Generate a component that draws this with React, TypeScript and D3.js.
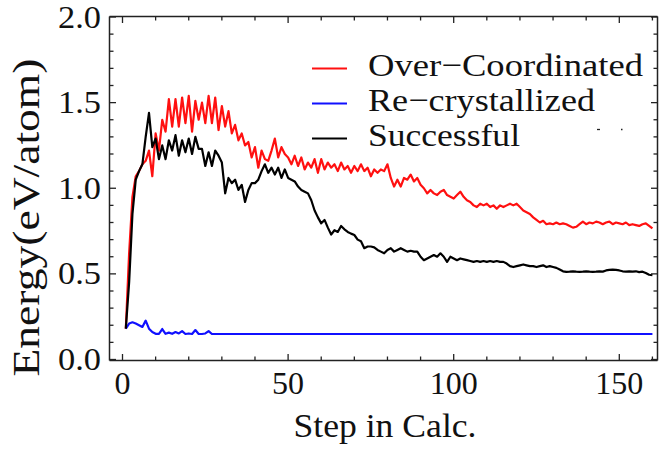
import React from 'react';
import * as d3 from 'd3';

const seriesNames = ['Over\u2212Coordinated', 'Re\u2212crystallized', 'Successful'];
const seriesColors = ['#ff1010', '#1010ff', '#000000'];
const legendTextWidths = [275, 227, 152];

// values per calculation step (step 1 .. 160)
const overCoordinated = [
  0.18, 0.62, 0.95, 1.07, 1.10, 1.14, 1.16, 1.22, 1.07, 1.32,
  1.22, 1.40, 1.33, 1.52, 1.36, 1.52, 1.36, 1.53, 1.38, 1.54,
  1.33, 1.51, 1.40, 1.50, 1.38, 1.54, 1.38, 1.53, 1.34, 1.48,
  1.36, 1.45, 1.32, 1.37, 1.28, 1.32, 1.25, 1.27, 1.18, 1.24,
  1.12, 1.22, 1.17, 1.16, 1.22, 1.29, 1.18, 1.24, 1.20, 1.18,
  1.14, 1.19, 1.13, 1.18, 1.11, 1.15, 1.12, 1.17, 1.09, 1.17,
  1.11, 1.15, 1.12, 1.14, 1.10, 1.15, 1.11, 1.13, 1.09, 1.13,
  1.10, 1.14, 1.10, 1.12, 1.07, 1.11, 1.09, 1.11, 1.10, 1.14,
  1.06, 1.01, 1.05, 1.01, 1.06, 1.05, 1.08, 1.04, 1.06, 1.02,
  1.00, 0.97, 0.99, 0.97, 0.96, 0.98, 0.99, 0.96, 0.95, 0.94,
  0.96, 0.98, 0.95, 0.93, 0.92, 0.90, 0.89, 0.91, 0.90, 0.91,
  0.89, 0.90, 0.88, 0.90, 0.89, 0.90, 0.91, 0.90, 0.91, 0.89,
  0.87, 0.86, 0.85, 0.83, 0.815, 0.80, 0.81, 0.79, 0.795, 0.79,
  0.80, 0.79, 0.795, 0.79, 0.78, 0.77, 0.775, 0.79, 0.805, 0.79,
  0.80, 0.795, 0.805, 0.80, 0.79, 0.80, 0.805, 0.79, 0.80, 0.795,
  0.79, 0.80, 0.785, 0.79, 0.785, 0.78, 0.79, 0.795, 0.78, 0.765,
];

const reCrystallized = [
  0.18, 0.21, 0.217, 0.21, 0.20, 0.19, 0.227, 0.18, 0.16, 0.15,
  0.15, 0.178, 0.15, 0.157, 0.15, 0.16, 0.152, 0.166, 0.149, 0.152,
  0.149, 0.172, 0.149, 0.149, 0.152, 0.166, 0.149, 0.149, 0.149, 0.149,
  0.149, 0.149, 0.149, 0.149, 0.149, 0.149, 0.149, 0.149, 0.149, 0.149,
  0.149, 0.149, 0.149, 0.149, 0.149, 0.149, 0.149, 0.149, 0.149, 0.149,
  0.149, 0.149, 0.149, 0.149, 0.149, 0.149, 0.149, 0.149, 0.149, 0.149,
  0.149, 0.149, 0.149, 0.149, 0.149, 0.149, 0.149, 0.149, 0.149, 0.149,
  0.149, 0.149, 0.149, 0.149, 0.149, 0.149, 0.149, 0.149, 0.149, 0.149,
  0.149, 0.149, 0.149, 0.149, 0.149, 0.149, 0.149, 0.149, 0.149, 0.149,
  0.149, 0.149, 0.149, 0.149, 0.149, 0.149, 0.149, 0.149, 0.149, 0.149,
  0.149, 0.149, 0.149, 0.149, 0.149, 0.149, 0.149, 0.149, 0.149, 0.149,
  0.149, 0.149, 0.149, 0.149, 0.149, 0.149, 0.149, 0.149, 0.149, 0.149,
  0.149, 0.149, 0.149, 0.149, 0.149, 0.149, 0.149, 0.149, 0.149, 0.149,
  0.149, 0.149, 0.149, 0.149, 0.149, 0.149, 0.149, 0.149, 0.149, 0.149,
  0.149, 0.149, 0.149, 0.149, 0.149, 0.149, 0.149, 0.149, 0.149, 0.149,
  0.149, 0.149, 0.149, 0.149, 0.149, 0.149, 0.149, 0.149, 0.149, 0.149,
];

const successful = [
  0.18, 0.45, 0.85, 1.05, 1.10, 1.14, 1.30, 1.44, 1.24, 1.29,
  1.17, 1.25, 1.17, 1.28, 1.22, 1.31, 1.19, 1.28, 1.21, 1.29,
  1.20, 1.30, 1.23, 1.23, 1.13, 1.21, 1.13, 1.22, 1.19, 1.15,
  0.97, 1.06, 1.03, 1.05, 0.99, 1.02, 0.92, 0.99, 1.03, 1.03,
  1.05, 1.10, 1.14, 1.09, 1.12, 1.08, 1.12, 1.06, 1.11, 1.06,
  1.05, 1.04, 1.01, 0.99, 0.98, 0.97, 0.93, 0.87, 0.83, 0.795,
  0.815, 0.77, 0.73, 0.755, 0.745, 0.78, 0.76, 0.745, 0.735, 0.727,
  0.70, 0.69, 0.65, 0.66, 0.66, 0.655, 0.64, 0.63, 0.62, 0.64,
  0.65, 0.63, 0.64, 0.65, 0.64, 0.63, 0.635, 0.63, 0.63, 0.60,
  0.58, 0.59, 0.60, 0.61, 0.60, 0.62, 0.60, 0.57, 0.60, 0.59,
  0.58, 0.59, 0.585, 0.58, 0.575, 0.57, 0.575, 0.57, 0.575, 0.57,
  0.575, 0.57, 0.575, 0.57, 0.57, 0.56, 0.545, 0.54, 0.545, 0.55,
  0.555, 0.55, 0.545, 0.545, 0.54, 0.545, 0.55, 0.54, 0.545, 0.54,
  0.535, 0.525, 0.515, 0.512, 0.513, 0.515, 0.513, 0.512, 0.513, 0.515,
  0.513, 0.512, 0.513, 0.515, 0.513, 0.52, 0.523, 0.525, 0.523, 0.52,
  0.515, 0.513, 0.515, 0.513, 0.515, 0.51, 0.513, 0.505, 0.495, 0.493,
];

const seriesValues = [overCoordinated, reCrystallized, successful];
const firstStep = 1;

const xTicks = [0, 50, 100, 150];
const xTickLabels = ['0', '50', '100', '150'];
const xMinorTicks = [0, 10, 20, 30, 40, 50, 60, 70, 80, 90, 100, 110, 120, 130, 140, 150, 160];
const yTicks = [0, 0.5, 1.0, 1.5, 2.0];
const yTickLabels = ['0.0', '0.5', '1.0', '1.5', '2.0'];
const yMinorTicks = [0, 0.1, 0.2, 0.3, 0.4, 0.5, 0.6, 0.7, 0.8, 0.9, 1.0, 1.1, 1.2, 1.3, 1.4, 1.5, 1.6, 1.7, 1.8, 1.9, 2.0];

const xTitle = 'Step in Calc.';
const yTitle = 'Energy(eV/atom)';

const W = 659;
const H = 452;
const FONT = "'Liberation Serif', 'Times New Roman', serif";

export default function App() {
  const x = d3.scaleLinear().domain([0, 150]).range([122.5, 619.3]);
  const y = d3.scaleLinear().domain([0, 2]).range([359.5, 17]);
  const frame = { left: 109.5, right: 657.5, top: 16.5, bottom: 360.5 };

  const line = d3
    .line<number>()
    .x((_, i) => x(firstStep + i))
    .y((d) => y(d));

  const legendY = [68.5, 103.5, 138.5];

  return (
    <svg
      width={W}
      height={H}
      style={{ position: 'absolute', left: 0, top: 0, background: '#fff' }}
      fontFamily={FONT}
    >
      <rect x={0} y={0} width={W} height={H} fill="#fff" />

      {/* data lines */}
      {seriesValues.map((vals, k) => (
        <path
          key={k}
          d={line(vals) || ''}
          fill="none"
          stroke={seriesColors[k]}
          strokeWidth={2.2}
          strokeLinejoin="round"
        />
      ))}

      {/* frame */}
      <g stroke="#222" strokeWidth={1.5} fill="none">
        <line x1={frame.left} x2={frame.right} y1={frame.top} y2={frame.top} />
        <line x1={frame.left} x2={frame.right} y1={frame.bottom} y2={frame.bottom} />
        <line x1={frame.left} x2={frame.left} y1={frame.top} y2={frame.bottom} />
        <line x1={frame.right} x2={frame.right} y1={frame.top} y2={frame.bottom} />
      </g>

      {/* ticks */}
      <g stroke="#222" strokeWidth={1.3}>
        {xMinorTicks.map((t) => {
          const major = xTicks.includes(t);
          const len = major ? 6.5 : 4;
          return (
            <g key={'xt' + t}>
              <line x1={x(t)} x2={x(t)} y1={frame.bottom} y2={frame.bottom - len} />
              <line x1={x(t)} x2={x(t)} y1={frame.top} y2={frame.top + len} />
            </g>
          );
        })}
        {yMinorTicks.map((t) => {
          const major = yTicks.some((v) => Math.abs(v - t) < 1e-9);
          const len = major ? 6.5 : 4;
          return (
            <g key={'yt' + t}>
              <line x1={frame.left} x2={frame.left + len} y1={y(t)} y2={y(t)} />
              <line x1={frame.right} x2={frame.right - len} y1={y(t)} y2={y(t)} />
            </g>
          );
        })}
      </g>

      {/* tick labels */}
      <g fill="#111" fontSize={32}>
        {xTicks.map((t, i) => (
          <text key={'xl' + t} x={x(t)} y={394} textAnchor="middle">
            {xTickLabels[i]}
          </text>
        ))}
        {yTicks.map((t, i) => (
          <text
            key={'yl' + t}
            x={101}
            y={y(t) + 10.5}
            textAnchor="end"
            textLength={43}
            lengthAdjust="spacingAndGlyphs"
          >
            {yTickLabels[i]}
          </text>
        ))}
      </g>

      {/* axis titles */}
      <text
        x={385}
        y={437}
        textAnchor="middle"
        fontSize={33}
        fill="#111"
        textLength={183}
        lengthAdjust="spacingAndGlyphs"
      >
        {xTitle}
      </text>
      <text
        transform={`translate(39,217.5) rotate(-90)`}
        textAnchor="middle"
        fontSize={37}
        fill="#111"
        textLength={318}
        lengthAdjust="spacingAndGlyphs"
      >
        {yTitle}
      </text>

      {/* legend */}
      {seriesNames.map((name, k) => (
        <g key={'lg' + k}>
          <line
            x1={312}
            x2={347}
            y1={legendY[k]}
            y2={legendY[k]}
            stroke={seriesColors[k]}
            strokeWidth={2.2}
          />
          <text
            x={368}
            y={legendY[k] + 7.5}
            fontSize={32}
            fill="#111"
            textLength={legendTextWidths[k]}
            lengthAdjust="spacingAndGlyphs"
          >
            {name}
          </text>
        </g>
      ))}

      {/* small stray marks near legend */}
      <g stroke="#222" strokeWidth={1.3}>
        <line x1={597} x2={600} y1={129.5} y2={129.5} />
        <line x1={621} x2={622.5} y1={129.5} y2={129.5} />
      </g>
    </svg>
  );
}
